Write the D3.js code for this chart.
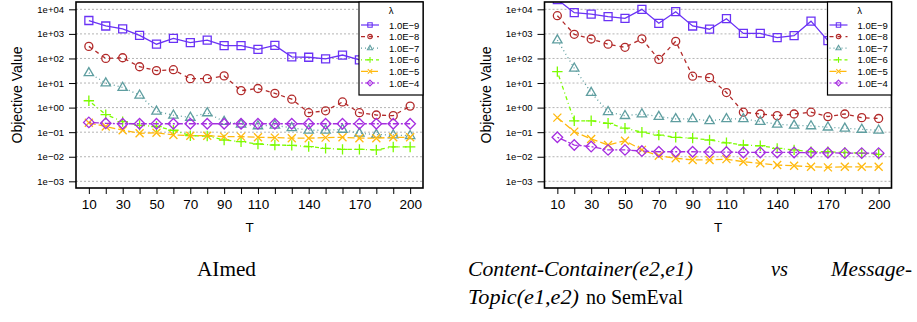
<!DOCTYPE html>
<html>
<head>
<meta charset="utf-8">
<script src="https://cdn.jsdelivr.net/npm/d3@7"></script>
<style>
  body { margin: 0; background: #fff; }
  svg text { font-family: "Liberation Sans", Arial, sans-serif; fill: #000; }
  svg text.cap { font-family: "Liberation Serif", "DejaVu Serif", serif; }
</style>
</head>
<body>
<div id="chart"></div>
<script>
// x values (T) and legend labels
let tValues = [10, 20, 30, 40, 50, 60, 70, 80, 90, 100, 110, 120, 130, 140, 150, 160, 170, 180, 190, 200]
let lambdas = ['1.0E\u22129', '1.0E\u22128', '1.0E\u22127', '1.0E\u22126', '1.0E\u22125', '1.0E\u22124']
let yTicks = [1e-3, 1e-2, 1e-1, 1e0, 1e1, 1e2, 1e3, 1e4]
let yTickLabels = ['1e\u221203', '1e\u221202', '1e\u221201', '1e+00', '1e+01', '1e+02', '1e+03', '1e+04']
let xTickLabels = [10, 30, 50, 70, 90, 110, 140, 170, 200]

// AImed panel
let aimed9 = [3500, 2100, 1600, 870, 380, 660, 440, 560, 330, 330, 235, 340, 117, 112, 96, 138, 87, 80, 70, 75]
let aimed8 = [310, 100, 107, 46, 32, 35, 15, 15, 19.5, 4.9, 6.0, 3.8, 2.2, 0.62, 0.74, 1.7, 0.62, 0.50, 0.47, 1.15]
let aimed7 = [26, 10, 6.6, 3.2, 0.71, 0.49, 0.40, 0.61, 0.27, 0.21, 0.18, 0.19, 0.15, 0.12, 0.12, 0.13, 0.09, 0.08, 0.077, 0.072]
let aimed6 = [1.9, 0.52, 0.27, 0.19, 0.17, 0.12, 0.072, 0.07, 0.048, 0.041, 0.033, 0.030, 0.029, 0.026, 0.022, 0.020, 0.020, 0.019, 0.025, 0.025]
let aimed5 = [0.24, 0.17, 0.12, 0.09, 0.095, 0.077, 0.072, 0.072, 0.066, 0.066, 0.062, 0.06, 0.057, 0.057, 0.06, 0.062, 0.057, 0.057, 0.062, 0.062]
let aimed4 = [0.25, 0.23, 0.22, 0.22, 0.22, 0.22, 0.22, 0.22, 0.22, 0.22, 0.22, 0.22, 0.22, 0.22, 0.22, 0.22, 0.22, 0.22, 0.22, 0.22]

// Content-Container vs Message-Topic panel
let cc9 = [25000, 7300, 6400, 5000, 4300, 10000, 2700, 8000, 2100, 1550, 4150, 1050, 1050, 700, 850, 3300, 530, 600, 500, 550]
let cc8 = [5500, 960, 620, 380, 285, 630, 91, 500, 19, 16.6, 4.1, 0.65, 0.55, 0.47, 0.55, 0.65, 0.43, 0.55, 0.39, 0.36]
let cc7 = [560, 40, 4.1, 0.68, 0.47, 0.55, 0.43, 0.35, 0.35, 0.29, 0.35, 0.35, 0.27, 0.21, 0.19, 0.18, 0.16, 0.144, 0.13, 0.12]
let cc6 = [29, 0.29, 0.29, 0.23, 0.145, 0.10, 0.076, 0.062, 0.057, 0.048, 0.037, 0.030, 0.028, 0.022, 0.019, 0.016, 0.016, 0.015, 0.014, 0.0126]
let cc5 = [0.39, 0.105, 0.053, 0.030, 0.045, 0.019, 0.011, 0.0087, 0.0074, 0.0074, 0.0080, 0.0063, 0.0054, 0.0046, 0.0043, 0.0039, 0.0037, 0.0039, 0.0039, 0.0039]
let cc4 = [0.062, 0.030, 0.026, 0.019, 0.019, 0.017, 0.016, 0.016, 0.016, 0.0155, 0.0155, 0.015, 0.015, 0.015, 0.015, 0.0145, 0.0145, 0.014, 0.014, 0.014]

// one style per lambda (colour, R lty, pch)
let styles = [
  {color: '#6a32f5', dash: null, mark: 'square'},
  {color: '#b22a2a', dash: '4,4', mark: 'circle'},
  {color: '#5f9ea0', dash: '1,3', mark: 'triangle'},
  {color: '#7cfc00', dash: '1,3,4,3', mark: 'plus'},
  {color: '#ffb90f', dash: '7,3', mark: 'cross'},
  {color: '#a52ee0', dash: '2,2,6,2', mark: 'diamond'}
]

let W = 917, H = 322
let plotW = 347, plotTop = 2, plotBottom = 188

let svg = d3.select('#chart').append('svg')
  .attr('width', W)
  .attr('height', H)

function markerPath(kind, s) {
  // s = scale, 1 for plot points
  let p = d3.path()
  if (kind === 'square') {
    let h = 4 * s
    p.rect(-h, -h, 2 * h, 2 * h)
  } else if (kind === 'circle') {
    let r = 4 * s
    p.moveTo(r, 0); p.arc(0, 0, r, 0, 2 * Math.PI)
  } else if (kind === 'triangle') {
    let r = 5.2 * s
    p.moveTo(0, -r); p.lineTo(r * 0.9, r * 0.55); p.lineTo(-r * 0.9, r * 0.55); p.closePath()
  } else if (kind === 'plus') {
    let r = 5.2 * s
    p.moveTo(-r, 0); p.lineTo(r, 0); p.moveTo(0, -r); p.lineTo(0, r)
  } else if (kind === 'cross') {
    let r = 4 * s
    p.moveTo(-r, -r); p.lineTo(r, r); p.moveTo(-r, r); p.lineTo(r, -r)
  } else if (kind === 'diamond') {
    let r = 5.3 * s
    p.moveTo(0, -r); p.lineTo(r, 0); p.lineTo(0, r); p.lineTo(-r, 0); p.closePath()
  }
  return p.toString()
}

function drawPanel(left, series, id) {
  let x = d3.scaleLinear()
    .domain([2.4, 207.6])
    .range([left, left + plotW])

  let y = d3.scaleLog()
    .domain([Math.pow(10, -3.272), Math.pow(10, 4.298)])
    .range([plotBottom, plotTop])

  let g = svg.append('g')

  svg.append('defs').append('clipPath')
    .attr('id', 'clip' + id)
    .append('rect')
    .attr('x', left)
    .attr('y', plotTop)
    .attr('width', plotW)
    .attr('height', plotBottom - plotTop)

  // grid lines
  g.append('g').selectAll('line')
    .data(yTicks)
    .enter().append('line')
    .attr('x1', left)
    .attr('x2', left + plotW)
    .attr('y1', d => y(d))
    .attr('y2', d => y(d))
    .attr('stroke', '#b4b4b4')
    .attr('stroke-width', 1)
    .attr('stroke-dasharray', '2,2')

  // y axis
  let yAxis = d3.axisLeft(y)
    .tickValues(yTicks)
    .tickSize(7)
    .tickFormat((d, i) => yTickLabels[i])
  let ya = g.append('g')
    .attr('transform', 'translate(' + left + ',0)')
    .call(yAxis)
  ya.select('.domain').remove()
  ya.selectAll('text').attr('font-size', 9.5).attr('font-family', '"Liberation Sans", Arial, sans-serif').attr('x', -12)
  ya.selectAll('line').attr('stroke', '#000')

  // x axis
  let xAxis = d3.axisBottom(x)
    .tickValues(tValues)
    .tickSize(6)
    .tickFormat(d => xTickLabels.indexOf(d) >= 0 ? d : '')
  let xa = g.append('g')
    .attr('transform', 'translate(0,' + plotBottom + ')')
    .call(xAxis)
  xa.select('.domain').remove()
  xa.selectAll('text').attr('font-size', 13.5).attr('font-family', '"Liberation Sans", Arial, sans-serif').attr('y', 11)
  xa.selectAll('line').attr('stroke', '#000')

  // axis titles
  g.append('text')
    .attr('transform', 'translate(' + (left - 54) + ',' + ((plotTop + plotBottom) / 2) + ') rotate(-90)')
    .attr('text-anchor', 'middle')
    .attr('font-size', 14)
    .text('Objective Value')

  g.append('text')
    .attr('x', left + plotW / 2)
    .attr('y', 232)
    .attr('text-anchor', 'middle')
    .attr('font-size', 13.5)
    .text('T')

  // series
  let lines = g.append('g').attr('clip-path', 'url(#clip' + id + ')')
  let line = d3.line()
    .x((d, i) => x(tValues[i]))
    .y(d => y(d))

  series.forEach(function (vals, k) {
    let st = styles[k]
    lines.append('path')
      .datum(vals)
      .attr('d', line)
      .attr('fill', 'none')
      .attr('stroke', st.color)
      .attr('stroke-width', 1.3)
      .attr('stroke-dasharray', st.dash)
    lines.append('g').selectAll('path')
      .data(vals)
      .enter().append('path')
      .attr('transform', (d, i) => 'translate(' + x(tValues[i]) + ',' + y(d) + ')')
      .attr('d', markerPath(st.mark, 1))
      .attr('fill', 'none')
      .attr('stroke', st.color)
      .attr('stroke-width', 1.3)
  })

  // frame
  g.append('rect')
    .attr('x', left)
    .attr('y', plotTop)
    .attr('width', plotW)
    .attr('height', plotBottom - plotTop)
    .attr('fill', 'none')
    .attr('stroke', '#000')
    .attr('stroke-width', 1.6)

  // legend
  let lx = left + plotW - 64
  let leg = g.append('g')
  leg.append('rect')
    .attr('x', lx)
    .attr('y', plotTop)
    .attr('width', 64)
    .attr('height', 93)
    .attr('fill', '#fff')
    .attr('stroke', '#000')
    .attr('stroke-width', 1.2)
  leg.append('text')
    .attr('x', lx + 32)
    .attr('y', 14)
    .attr('text-anchor', 'middle')
    .attr('font-size', 9.5)
    .text('\u03bb')
  lambdas.forEach(function (lab, k) {
    let st = styles[k]
    let ly = 25 + k * 11.6
    leg.append('line')
      .attr('x1', lx + 2)
      .attr('x2', lx + 20)
      .attr('y1', ly)
      .attr('y2', ly)
      .attr('stroke', st.color)
      .attr('stroke-width', 1.2)
      .attr('stroke-dasharray', st.dash)
    leg.append('path')
      .attr('transform', 'translate(' + (lx + 11) + ',' + ly + ')')
      .attr('d', markerPath(st.mark, 0.55))
      .attr('fill', 'none')
      .attr('stroke', st.color)
      .attr('stroke-width', 1.1)
    leg.append('text')
      .attr('x', lx + 30)
      .attr('y', ly + 3.5)
      .attr('font-size', 9.5)
      .text(lab)
  })
}

drawPanel(76, [aimed9, aimed8, aimed7, aimed6, aimed5, aimed4], 'a')
drawPanel(544.5, [cc9, cc8, cc7, cc6, cc5, cc4], 'b')

// captions (LaTeX-style, justified second caption)
function caption(x, y, txt, italic, len, anchor) {
  svg.append('text')
    .attr('class', 'cap')
    .attr('x', x)
    .attr('y', y)
    .attr('font-size', 20)
    .attr('font-style', italic ? 'italic' : 'normal')
    .attr('text-anchor', anchor || 'start')
    .attr('textLength', len)
    .attr('lengthAdjust', 'spacingAndGlyphs')
    .text(txt)
}

caption(197, 276, 'AImed', false, 59)
caption(468, 276, 'Content-Container(e2,e1)', true, 225)
caption(771, 276, 'vs', true, 17)
caption(831, 276, 'Message-', true, 81)
caption(468, 304, 'Topic(e1,e2)', true, 111)
caption(586, 304, 'no SemEval', false, 97)
</script>
</body>
</html>
